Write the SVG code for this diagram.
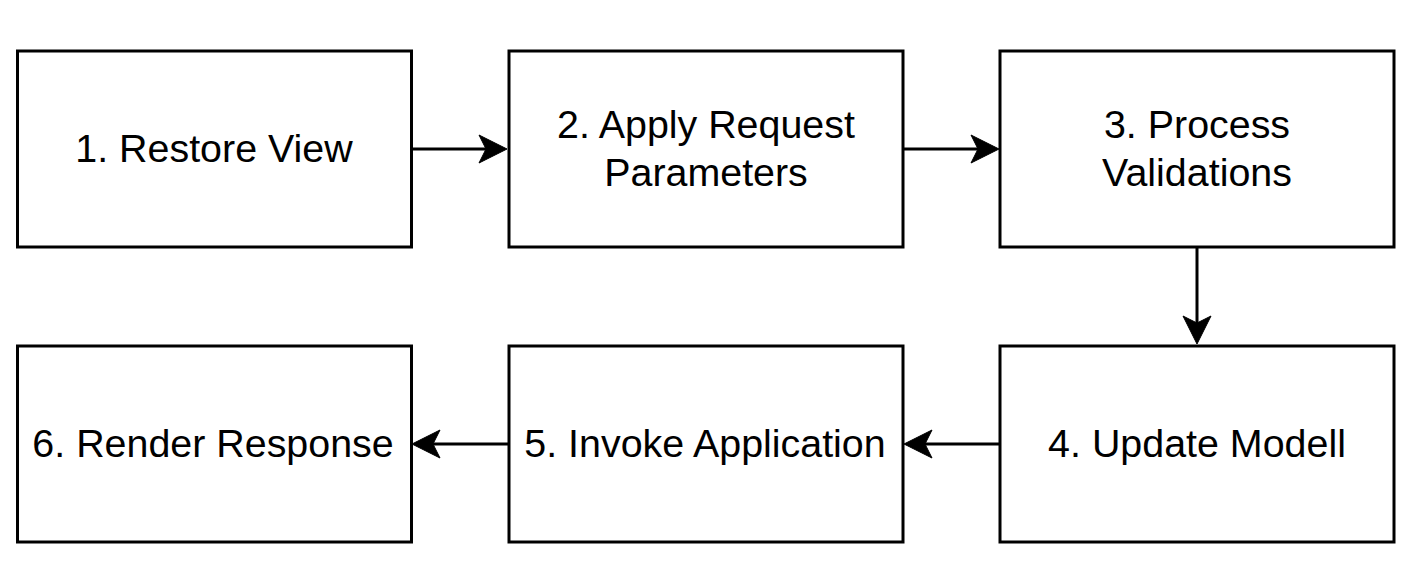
<svg xmlns="http://www.w3.org/2000/svg" width="1416" height="580" viewBox="0 0 1416 580">
<style>
.box{fill:#fff;stroke:#000;stroke-width:3}
.lbl{font-family:"Liberation Sans",Arial,Helvetica,sans-serif;font-size:39.4px;fill:#000;text-anchor:middle}
.edge{fill:none;stroke:#000;stroke-width:3}
.head{fill:#000;stroke:#000;stroke-width:1}
</style>
<rect width="1416" height="580" fill="#fff"/>
<g id="connectors">
<line class="edge" x1="411" y1="149" x2="490" y2="149"/>
<path class="head" d="M507,149 L479,135 L486,149 L479,163 Z"/>
<line class="edge" x1="903" y1="149" x2="982" y2="149"/>
<path class="head" d="M999,149 L971,135 L978,149 L971,163 Z"/>
<line class="edge" x1="1197" y1="247" x2="1197" y2="326"/>
<path class="head" d="M1197,344 L1183,316 L1197,323 L1211,316 Z"/>
<line class="edge" x1="1000" y1="444" x2="921" y2="444"/>
<path class="head" d="M904,444 L932,430 L925,444 L932,458 Z"/>
<line class="edge" x1="508" y1="444" x2="429" y2="444"/>
<path class="head" d="M412,444 L440,430 L433,444 L440,458 Z"/>
</g>
<g id="n1"><rect class="box" x="17.5" y="51" width="394" height="196"/><text class="lbl" x="214" y="162">1. Restore View</text></g>
<g id="n2"><rect class="box" x="509" y="51" width="394" height="196"/><text class="lbl" x="706" y="138">2. Apply Request</text><text class="lbl" x="706" y="186">Parameters</text></g>
<g id="n3"><rect class="box" x="1000" y="51" width="394" height="196"/><text class="lbl" x="1197" y="138">3. Process</text><text class="lbl" x="1197" y="186">Validations</text></g>
<g id="n4"><rect class="box" x="1000" y="346" width="394" height="196"/><text class="lbl" x="1197" y="457">4. Update Modell</text></g>
<g id="n5"><rect class="box" x="509" y="346" width="394" height="196"/><text class="lbl" x="705" y="457">5. Invoke Application</text></g>
<g id="n6"><rect class="box" x="17.5" y="346" width="394" height="196"/><text class="lbl" x="213" y="457">6. Render Response</text></g>
</svg>
